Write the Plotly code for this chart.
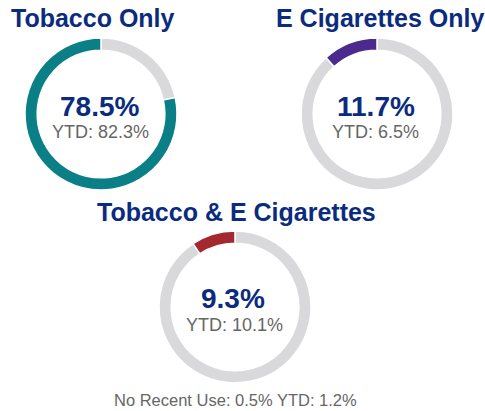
import plotly.graph_objects as go

categories = ["Tobacco Only", "E Cigarettes Only", "Tobacco & E Cigarettes"]
current_pct = [78.5, 11.7, 9.3]
ytd_pct = [82.3, 6.5, 10.1]
no_recent_pct = 0.5
no_recent_ytd = 1.2

colors = ["#0A7F86", "#4A2A8C", "#A4282F"]
rest_color = "#D9D9DB"
navy = "#0B2C7E"
grey_text = "#666666"

W, H = 485, 411
# donut centers (px) and radius
centers = [(101, 114), (377, 114), (235, 307)]
R = 76
title_pos = [(93, 18), (380, 18), (236, 212)]
main_pos = [(99, 106), (376, 106), (233, 298)]
ytd_pos = [(100, 132), (375, 132), (234, 325)]

fig = go.Figure()
for i, cat in enumerate(categories):
    cx, cy = centers[i]
    fig.add_trace(go.Pie(
        values=[100 - current_pct[i], current_pct[i]],
        labels=["Other", cat],
        marker=dict(colors=[rest_color, colors[i]], line=dict(color="white", width=1.5)),
        hole=0.84,
        sort=False,
        direction="clockwise",
        rotation=0,
        textinfo="none",
        hoverinfo="skip",
        showlegend=False,
        domain=dict(x=[(cx - R) / W, (cx + R) / W], y=[1 - (cy + R) / H, 1 - (cy - R) / H]),
    ))

font_family = "Arial, Liberation Sans, sans-serif"
ann = []
for i, cat in enumerate(categories):
    tx, ty = title_pos[i]
    ann.append(dict(x=tx / W, y=1 - ty / H, xref="paper", yref="paper", text="<b>%s</b>" % cat,
                    showarrow=False, xanchor="center", yanchor="middle",
                    font=dict(family=font_family, size=25, color=navy)))
    mx, my = main_pos[i]
    ann.append(dict(x=mx / W, y=1 - my / H, xref="paper", yref="paper", text="<b>%.1f%%</b>" % current_pct[i],
                    showarrow=False, xanchor="center", yanchor="middle",
                    font=dict(family=font_family, size=28, color=navy)))
    yx, yy = ytd_pos[i]
    ann.append(dict(x=yx / W, y=1 - yy / H, xref="paper", yref="paper", text="YTD: %.1f%%" % ytd_pct[i],
                    showarrow=False, xanchor="center", yanchor="middle",
                    font=dict(family=font_family, size=18, color=grey_text)))
ann.append(dict(x=235 / W, y=1 - 400 / H, xref="paper", yref="paper",
                text="No Recent Use: %.1f%% YTD: %.1f%%" % (no_recent_pct, no_recent_ytd),
                showarrow=False, xanchor="center", yanchor="middle",
                font=dict(family=font_family, size=16.5, color=grey_text)))

fig.update_layout(width=W, height=H, margin=dict(l=0, r=0, t=0, b=0),
                  paper_bgcolor="white", plot_bgcolor="white", annotations=ann)
fig.write_html("out.html", config={"displayModeBar": False},
               post_script="document.body.style.margin='0px';document.body.style.overflow='hidden';")
